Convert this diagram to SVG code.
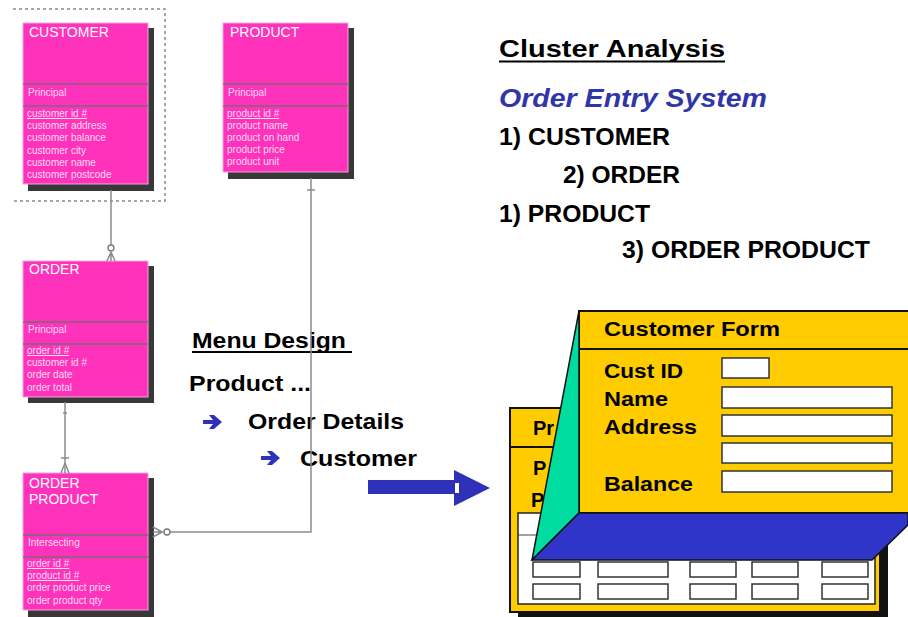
<svg xmlns="http://www.w3.org/2000/svg" width="908" height="617" viewBox="0 0 908 617">
<style>
.ent{fill:#ff33bb;stroke:#f0a8dc;stroke-width:1}
.shd{fill:#383838}
.div{stroke:#7a6a76;stroke-width:1.5}
.tt{font-family:"Liberation Sans",Arial,sans-serif;font-size:14px;fill:#ffffff}
.ta{font-family:"Liberation Sans",Arial,sans-serif;font-size:10px;fill:#ffdcf2}
.u{text-decoration:underline}
.con{stroke:#8c8c8c;stroke-width:1.5;fill:none}
.end{stroke:#777;stroke-width:1.3;fill:#fff}
.h{font-family:"Liberation Sans",Arial,sans-serif;font-weight:bold;fill:#000}
.fy{fill:#ffcc00;stroke:#111;stroke-width:2}
.box{fill:#fff;stroke:#333;stroke-width:1.5}
.blue{fill:#2e32b8}
</style>

<!-- subject-area boundary -->
<path d="M13,9 H165 V201 H13" fill="none" stroke="#8a8a8a" stroke-width="1.5" stroke-dasharray="3,3"/>

<g id="customer">
  <rect class="shd" x="28" y="28" width="126" height="163"/>
  <rect class="ent" x="23" y="23" width="125" height="161"/>
  <line class="div" x1="23" y1="84" x2="148" y2="84"/>
  <line class="div" x1="23" y1="106" x2="148" y2="106"/>
  <text class="tt" x="29" y="37">CUSTOMER</text>
  <text class="ta" x="28" y="96">Principal</text>
  <text class="ta u" x="27" y="117">customer id #</text>
  <text class="ta" x="27" y="129">customer address</text>
  <text class="ta" x="27" y="141">customer balance</text>
  <text class="ta" x="27" y="154">customer city</text>
  <text class="ta" x="27" y="166">customer name</text>
  <text class="ta" x="27" y="178">customer postcode</text>
</g>

<g id="product">
  <rect class="shd" x="228" y="28" width="126" height="151"/>
  <rect class="ent" x="223" y="23" width="125" height="149"/>
  <line class="div" x1="223" y1="84" x2="348" y2="84"/>
  <line class="div" x1="223" y1="106" x2="348" y2="106"/>
  <text class="tt" x="230" y="37">PRODUCT</text>
  <text class="ta" x="228" y="96">Principal</text>
  <text class="ta u" x="227" y="117">product id #</text>
  <text class="ta" x="227" y="129">product name</text>
  <text class="ta" x="227" y="141">product on hand</text>
  <text class="ta" x="227" y="153">product price</text>
  <text class="ta" x="227" y="165">product unit</text>
</g>

<g id="order">
  <rect class="shd" x="28" y="266" width="126" height="137"/>
  <rect class="ent" x="23" y="261" width="125" height="136"/>
  <line class="div" x1="23" y1="322" x2="148" y2="322"/>
  <line class="div" x1="23" y1="344" x2="148" y2="344"/>
  <text class="tt" x="29" y="274">ORDER</text>
  <text class="ta" x="28" y="333">Principal</text>
  <text class="ta u" x="27" y="354">order id #</text>
  <text class="ta" x="27" y="366">customer id #</text>
  <text class="ta" x="27" y="378">order date</text>
  <text class="ta" x="27" y="391">order total</text>
</g>

<g id="order-product">
  <rect class="shd" x="28" y="478" width="126" height="139"/>
  <rect class="ent" x="23" y="473" width="125" height="137"/>
  <line class="div" x1="23" y1="535" x2="148" y2="535"/>
  <line class="div" x1="23" y1="557" x2="148" y2="557"/>
  <text class="tt" x="29" y="488">ORDER</text>
  <text class="tt" x="29" y="504">PRODUCT</text>
  <text class="ta" x="28" y="546">Intersecting</text>
  <text class="ta u" x="27" y="567">order id #</text>
  <text class="ta u" x="27" y="579">product id #</text>
  <text class="ta" x="27" y="591">order product price</text>
  <text class="ta" x="27" y="604">order product qty</text>
</g>

<g id="cluster-analysis">
  <text class="h" x="499" y="57" font-size="24" textLength="226" lengthAdjust="spacingAndGlyphs">Cluster Analysis</text>
  <line x1="499" y1="61.5" x2="725" y2="61.5" stroke="#000" stroke-width="2"/>
  <text class="h" x="499" y="107" font-size="25" font-style="italic" fill="#3035a8" style="fill:#3035a8" textLength="268" lengthAdjust="spacingAndGlyphs">Order Entry System</text>
  <text class="h" x="499" y="145" font-size="23" textLength="171" lengthAdjust="spacingAndGlyphs">1) CUSTOMER</text>
  <text class="h" x="563" y="183" font-size="23" textLength="117" lengthAdjust="spacingAndGlyphs">2) ORDER</text>
  <text class="h" x="499" y="222" font-size="23" textLength="151" lengthAdjust="spacingAndGlyphs">1) PRODUCT</text>
  <text class="h" x="622" y="258" font-size="23" textLength="248" lengthAdjust="spacingAndGlyphs">3) ORDER PRODUCT</text>
</g>

<g id="menu-design">
  <text class="h" x="192" y="348" font-size="22" textLength="154" lengthAdjust="spacingAndGlyphs">Menu Design</text>
  <line x1="192" y1="352" x2="352" y2="352" stroke="#000" stroke-width="2"/>
  <text class="h" x="189" y="391" font-size="22" textLength="122" lengthAdjust="spacingAndGlyphs">Product ...</text>
  <path class="blue" d="M203,420 H213 L209,415 H214 L222,422 L214,429 H209 L213,424 H203 Z"/>
  <text class="h" x="248" y="429" font-size="22" textLength="156" lengthAdjust="spacingAndGlyphs">Order Details</text>
  <path class="blue" d="M261,456 H271 L267,451 H272 L280,458 L272,465 H267 L271,460 H261 Z"/>
  <text class="h" x="300" y="466" font-size="22" textLength="117" lengthAdjust="spacingAndGlyphs">Customer</text>
</g>

<g id="flow-arrow">
  <rect class="blue" x="368" y="480" width="89" height="14"/>
  <polygon class="blue" points="454,470 490,488 454,506"/>
  <rect x="455" y="483" width="4" height="10" fill="#fff"/>
</g>

<g id="product-form">
  <rect x="518" y="416" width="370" height="201" fill="#111"/>
  <rect class="fy" x="510" y="408" width="370" height="204"/>
  <line x1="510" y1="447" x2="880" y2="447" stroke="#111" stroke-width="2"/>
  <text class="h" x="533" y="435" font-size="20">Pr</text>
  <text class="h" x="533" y="475" font-size="20">P</text>
  <text class="h" x="531" y="507" font-size="20">P</text>
  <rect x="518" y="513" width="357" height="91" fill="#fff" stroke="#222" stroke-width="1.5"/>
  <line x1="518" y1="535" x2="875" y2="535" stroke="#444" stroke-width="1"/>
  <rect class="box" x="533" y="562" width="47" height="15"/>
  <rect class="box" x="598" y="562" width="70" height="15"/>
  <rect class="box" x="690" y="562" width="46" height="15"/>
  <rect class="box" x="752" y="562" width="46" height="15"/>
  <rect class="box" x="822" y="562" width="46" height="15"/>
  <rect class="box" x="533" y="584" width="47" height="15"/>
  <rect class="box" x="598" y="584" width="70" height="15"/>
  <rect class="box" x="690" y="584" width="46" height="15"/>
  <rect class="box" x="752" y="584" width="46" height="15"/>
  <rect class="box" x="822" y="584" width="46" height="15"/>
</g>

<g id="customer-form">
  <rect class="fy" x="579" y="311" width="340" height="202"/>
  <line x1="579" y1="349" x2="908" y2="349" stroke="#111" stroke-width="2"/>
  <text class="h" x="604" y="336" font-size="20" textLength="176" lengthAdjust="spacingAndGlyphs">Customer Form</text>
  <text class="h" x="604" y="378" font-size="20" textLength="79" lengthAdjust="spacingAndGlyphs">Cust ID</text>
  <text class="h" x="604" y="406" font-size="20" textLength="64" lengthAdjust="spacingAndGlyphs">Name</text>
  <text class="h" x="604" y="434" font-size="20" textLength="93" lengthAdjust="spacingAndGlyphs">Address</text>
  <text class="h" x="604" y="491" font-size="20" textLength="89" lengthAdjust="spacingAndGlyphs">Balance</text>
  <rect class="box" x="722" y="358" width="47" height="20"/>
  <rect class="box" x="722" y="387" width="170" height="21"/>
  <rect class="box" x="722" y="415" width="170" height="21"/>
  <rect class="box" x="722" y="443" width="170" height="20"/>
  <rect class="box" x="722" y="471" width="170" height="21"/>
  <polygon points="579,311 579,513 532,560" fill="#00dca0" stroke="#111" stroke-width="1.5" stroke-linejoin="round"/>
  <polygon points="579,513 908,513 908,525 872,560 532,560" fill="#2e35c8" stroke="#111" stroke-width="1.5"/>
</g>

<g id="connectors">
  <!-- customer to order -->
  <line class="con" x1="111" y1="190" x2="111" y2="245"/>
  <circle class="end" cx="111" cy="248" r="3"/>
  <path class="con" d="M111,252 L107,261 M111,252 V261 M111,252 L115,261"/>
  <!-- order to order product -->
  <line class="con" x1="65" y1="402" x2="65" y2="473"/>
  <line class="con" x1="63" y1="413" x2="67" y2="413"/>
  <line class="con" x1="61" y1="458" x2="69" y2="458"/>
  <path class="con" d="M65,463 L61,473 M65,463 L69,473"/>
  <!-- product to order product -->
  <polyline class="con" points="311,178 311,532 170,532"/>
  <line class="con" x1="307" y1="190" x2="315" y2="190"/>
  <circle class="end" cx="167" cy="532" r="3"/>
  <path class="con" d="M164,532 H153 M162,532 L153,527 M162,532 L153,537"/>
</g>
</svg>
